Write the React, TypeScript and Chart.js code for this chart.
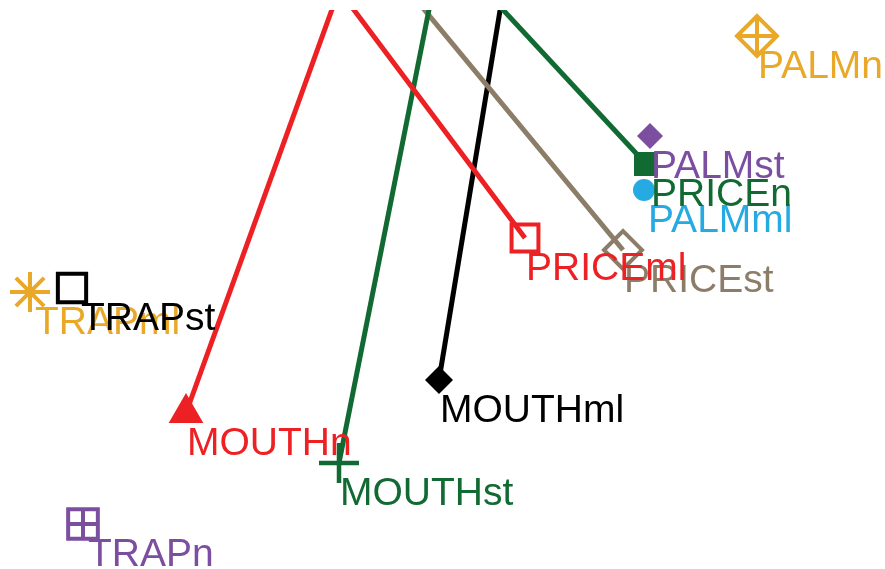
import React, { useEffect, useRef } from "react";
import { Chart, registerables } from "chart.js";

Chart.register(...registerables);

// Point labels (ordination-style sites), in drawing order
const siteLabels = [
  "PALMn", "PALMst", "PALMml", "PRICEn", "PRICEst", "PRICEml",
  "TRAPml", "TRAPst", "MOUTHml", "MOUTHn", "MOUTHst", "TRAPn",
];
// Axis 1 score (horizontal) and axis 2 score (vertical, increasing downward)
const axis1 = [757, 650, 644, 646, 623, 525, 30, 72, 439, 186, 339, 83];
const axis2 = [36, 136, 190, 164, 250, 238, 292, 288, 380, 413, 463, 524];

// Trajectory segments: from an upstream node (outside the plotted window) to a site
const segmentTargets = ["MOUTHn", "PRICEml", "MOUTHst", "PRICEn", "PRICEst", "MOUTHml"];
const segmentStartAxis1 = [339, 339, 442, 442, 370, 511];
const segmentStartAxis2 = [-10, -10, -56, -56, -56, -56];

const RED = "#ED2024";
const GREEN = "#126A33";
const TAN = "#8C7D68";
const BLACK = "#000000";
const PURPLE = "#7C4EA0";
const CYAN = "#26AAE2";
const GOLD = "#E9A828";

type Sty = { color: string; shape: string; r: number; fill: boolean; bw: number; inner?: number; nudge?: number };
const STYLE: Record<string, Sty> = {
  PALMn: { color: GOLD, shape: "rectRot", r: 20, fill: false, bw: 4, inner: 20 },
  PALMst: { color: PURPLE, shape: "rectRot", r: 13, fill: true, bw: 0 },
  PALMml: { color: CYAN, shape: "circle", r: 11, fill: true, bw: 0, nudge: 3 },
  PRICEn: { color: GREEN, shape: "rect", r: 17, fill: true, bw: 0, nudge: 4 },
  PRICEst: { color: TAN, shape: "rectRot", r: 19, fill: false, bw: 4 },
  PRICEml: { color: RED, shape: "rect", r: 19, fill: false, bw: 4 },
  TRAPml: { color: GOLD, shape: "star", r: 20, fill: false, bw: 4, nudge: 4 },
  TRAPst: { color: BLACK, shape: "rect", r: 20, fill: false, bw: 4, nudge: 8 },
  MOUTHml: { color: BLACK, shape: "rectRot", r: 14, fill: true, bw: 0 },
  MOUTHn: { color: RED, shape: "triangle", r: 20, fill: true, bw: 0 },
  MOUTHst: { color: GREEN, shape: "cross", r: 20, fill: false, bw: 4.5 },
  TRAPn: { color: PURPLE, shape: "rect", r: 21, fill: false, bw: 4, inner: 14.8, nudge: 4 },
};

const FONT = '39px "Liberation Sans", Arial, Helvetica, sans-serif';

const labelPlugin = {
  id: "siteLabels",
  afterDatasetsDraw(chart: any) {
    const meta = chart.getDatasetMeta(0);
    const ctx = chart.ctx;
    ctx.save();
    ctx.font = FONT;
    ctx.textAlign = "left";
    ctx.textBaseline = "alphabetic";
    siteLabels.forEach((lab, i) => {
      const el = meta.data[i];
      if (!el) return;
      ctx.fillStyle = STYLE[lab].color;
      ctx.fillText(lab, el.x + 1 + (STYLE[lab].nudge || 0), el.y + 42);
    });
    ctx.restore();
  },
};

export default function App() {
  const ref = useRef<HTMLCanvasElement | null>(null);

  useEffect(() => {
    if (!ref.current) return;
    const markerData = siteLabels.map((_, i) => ({ x: axis1[i], y: axis2[i] }));

    const innerIdx = siteLabels
      .map((l, i) => (STYLE[l].inner ? i : -1))
      .filter((i) => i >= 0);

    const segmentSets = segmentTargets.map((t, k) => {
      const i = siteLabels.indexOf(t);
      return {
        type: "scatter" as const,
        data: [
          { x: segmentStartAxis1[k], y: segmentStartAxis2[k] },
          { x: axis1[i], y: axis2[i] },
        ],
        showLine: true,
        borderColor: STYLE[t].color,
        borderWidth: 5,
        pointRadius: 0,
        pointHoverRadius: 0,
        pointHitRadius: 0,
        clip: 0,
        order: 10,
      };
    });

    const chart = new Chart(ref.current, {
      type: "scatter",
      data: {
        datasets: [
          {
            data: markerData,
            pointStyle: siteLabels.map((l) => STYLE[l].shape) as any,
            pointRadius: siteLabels.map((l) => STYLE[l].r),
            pointHoverRadius: siteLabels.map((l) => STYLE[l].r),
            pointBackgroundColor: siteLabels.map((l) =>
              STYLE[l].fill ? STYLE[l].color : "rgba(0,0,0,0)"
            ),
            pointBorderColor: siteLabels.map((l) => STYLE[l].color),
            pointBorderWidth: siteLabels.map((l) => STYLE[l].bw),
            showLine: false,
            clip: false as any,
            order: 1,
          },
          {
            data: innerIdx.map((i) => ({ x: axis1[i], y: axis2[i] })),
            pointStyle: "cross",
            pointRadius: innerIdx.map((i) => STYLE[siteLabels[i]].inner as number),
            pointBackgroundColor: "rgba(0,0,0,0)",
            pointBorderColor: innerIdx.map((i) => STYLE[siteLabels[i]].color),
            pointBorderWidth: 4,
            showLine: false,
            clip: false as any,
            order: 0,
          },
          ...segmentSets,
        ] as any,
      },
      options: {
        animation: false,
        responsive: false,
        devicePixelRatio: 1,
        events: [],
        layout: { autoPadding: false, padding: { top: 10, left: 0, right: 0, bottom: 0 } },
        plugins: {
          legend: { display: false },
          tooltip: { enabled: false },
          title: { display: false },
        },
        scales: {
          x: { type: "linear", min: 0, max: 885, display: false },
          y: { type: "linear", min: 10, max: 569, reverse: true, display: false },
        },
      },
      plugins: [labelPlugin],
    });
    return () => chart.destroy();
  }, []);

  return (
    <div
      style={{
        position: "absolute",
        left: 0,
        top: 0,
        width: 885,
        height: 569,
        background: "#ffffff",
      }}
    >
      <canvas ref={ref} width={885} height={569} />
    </div>
  );
}
